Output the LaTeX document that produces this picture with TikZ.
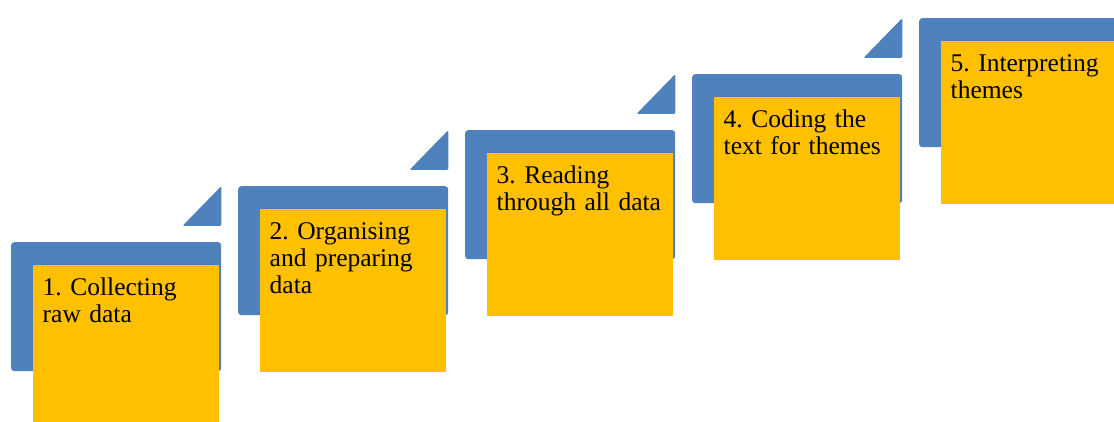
\documentclass[tikz,border=0pt]{standalone}
\usepackage{fontspec}
\setmainfont{Liberation Serif}
\usepackage{tikz}
\usetikzlibrary{positioning}
\frenchspacing

\definecolor{stepblue}{HTML}{4F81BD}
\definecolor{stepyellow}{HTML}{FFC000}

\tikzset{
  bluebox/.style={fill=stepblue, rounded corners=3pt, minimum width=210pt, minimum height=129pt, inner sep=0pt, anchor=north west},
  yellowbox/.style={fill=stepyellow, minimum width=186pt, minimum height=163pt, inner sep=0pt, anchor=north west},
  steptext/.style={text width=180pt, align=left, inner sep=0pt, anchor=north west,
     font=\fontsize{25.5}{27}\selectfont, execute at begin node={\rule{0pt}{18pt}}},
  steptri/.style={fill=stepblue, rounded corners=2pt},
}

\begin{document}
\begin{tikzpicture}[x=1pt, y=1pt]
   \useasboundingbox (0,0) rectangle (1114,421);
   \clip (0,0) rectangle (1114,421);
   % the five steps, each one up and to the right of the last
   \foreach \i/\txt in {1/{1. Collecting\\raw data},
                        2/{2. Organising\\and preparing\\data},
                        3/{3. Reading\\through all data},
                        4/{4. Coding the\\text for themes},
                        5/{5. Interpreting\\themes}}{
      \node[bluebox] (b\i) at ({11+227*(\i-1)}, {179+56*(\i-1)}) {};
      \node[yellowbox] (y\i) at ([xshift=22pt, yshift=-23pt]b\i.north west) {};
      \node[steptext] (t\i) at ([xshift=9.5pt, yshift=-12pt]y\i.north west) {\txt};
      \ifnum\i<5
         \path[steptri] ([yshift=16pt]b\i.north east) -- ([yshift=56pt]b\i.north east)
            -- ([xshift=-39pt, yshift=16pt]b\i.north east) -- cycle;
      \fi
   }
\end{tikzpicture}
\end{document}
